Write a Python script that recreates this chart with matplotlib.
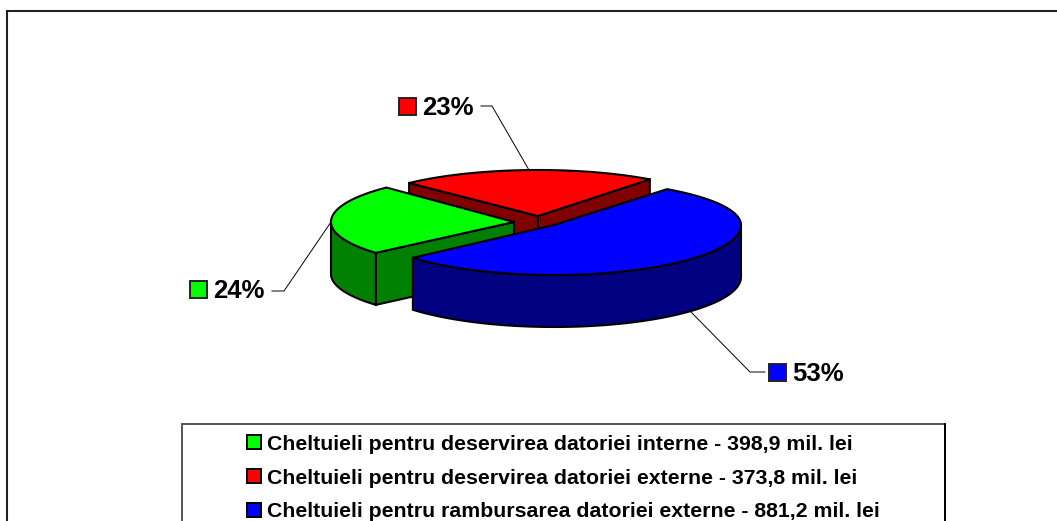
import numpy as np
import matplotlib
matplotlib.use("Agg")
import matplotlib.pyplot as plt
from matplotlib.patches import Polygon, Rectangle

plt.rcParams['font.family'] = ['Liberation Sans', 'DejaVu Sans']

# date din grafic
names = ["Cheltuieli pentru deservirea datoriei interne - 398,9 mil. lei",
         "Cheltuieli pentru deservirea datoriei externe - 373,8 mil. lei",
         "Cheltuieli pentru rambursarea datoriei externe - 881,2 mil. lei"]
values = [398.9, 373.8, 881.2]
percent = ["24%", "23%", "53%"]
top_colors = ["#00ff00", "#ff0000", "#0000ff"]
side_colors = ["#008000", "#800000", "#000080"]

# centrul fiecarei felii (explodat) si forma elipsei, in pixeli
apex = [(514, 222), (538, 216), (554, 225)]
radius = [183, 185, 187]
b_far = [48, 46, 45]
b_near = [47, 46, 50]
depth = 52
start = 221
lw = 1.5

W, H = 1057, 521
fig = plt.figure(figsize=(W / 100, H / 100), dpi=100)
ax = fig.add_axes([0, 0, 1, 1])
ax.set_xlim(0, W)
ax.set_ylim(H, 0)
ax.axis('off')

# chenarul exterior iese din imagine in dreapta si jos
ax.add_patch(Rectangle((7, 11), 1100, 560, fc='white', ec='#222222', lw=1.5))


def arc(i, t1, t2):
    t = np.radians(np.linspace(t1, t2, 120))
    bb = np.where(np.sin(t) > 0, b_far[i], b_near[i])
    return np.column_stack([apex[i][0] + radius[i] * np.cos(t), apex[i][1] - bb * np.sin(t)])


shares = np.array(values) / sum(values) * 360
ends = start - np.cumsum(shares)
begins = ends + shares

# ordinea de desenare: rosu, verde, albastru
for i in [1, 0, 2]:
    c = np.array(apex[i], dtype=float)
    pts = arc(i, begins[i], ends[i])
    down = np.array([0, depth])
    # peretii interiori care se vad
    if i == 1:
        for p in (pts[0], pts[-1]):
            ax.add_patch(Polygon([c, p, p + down, c + down], fc=side_colors[i], ec='black', lw=lw))
    if i == 0:
        p = pts[0]
        ax.add_patch(Polygon([c, p, p + down, c + down], fc=side_colors[i], ec='black', lw=lw))
    # marginea din fata
    t = np.linspace(begins[i], ends[i], 240)
    t = t[np.sin(np.radians(t)) <= 0]
    if len(t) > 1:
        rim = arc(i, t[0], t[-1])
        ax.add_patch(Polygon(np.vstack([rim, (rim + down)[::-1]]), fc=side_colors[i], ec='black', lw=lw))
    ax.add_patch(Polygon(np.vstack([c, pts]), fc=top_colors[i], ec='black', lw=lw))

# etichete cu linii de legatura
label_x = [190, 399, 769]
label_y = [298, 115, 381]
text_x = [213, 422, 792]
leaders = [[(272, 291), (284, 291), (331, 222)],
           [(481, 106), (492, 106), (529, 170)],
           [(691, 312), (750, 372), (765, 372)]]
for i in range(3):
    ax.add_patch(Rectangle((label_x[i], label_y[i] - 17), 17, 17, fc=top_colors[i], ec='#222222', lw=1.4))
    ax.text(text_x[i], label_y[i], percent[i], fontsize=18.5, fontweight='bold', va='baseline', ha='left')
    xs, ys = zip(*leaders[i])
    ax.plot(xs, ys, color='black', lw=0.7)

# legenda
ax.add_patch(Rectangle((182, 424), 763, 130, fc='white', ec='#555555', lw=1.4))
ax.plot([945, 945], [424, 521], color='black', lw=1.4)
legend_y = [442, 476, 510]
text_y = [450, 484, 517]
for i in range(3):
    ax.add_patch(Rectangle((247, legend_y[i] - 7), 14, 14, fc=top_colors[i], ec='black', lw=1.4))
    ax.text(267, text_y[i], names[i], fontsize=15.35, fontweight='bold', va='baseline', ha='left')

fig.savefig("out.png", dpi=100)
